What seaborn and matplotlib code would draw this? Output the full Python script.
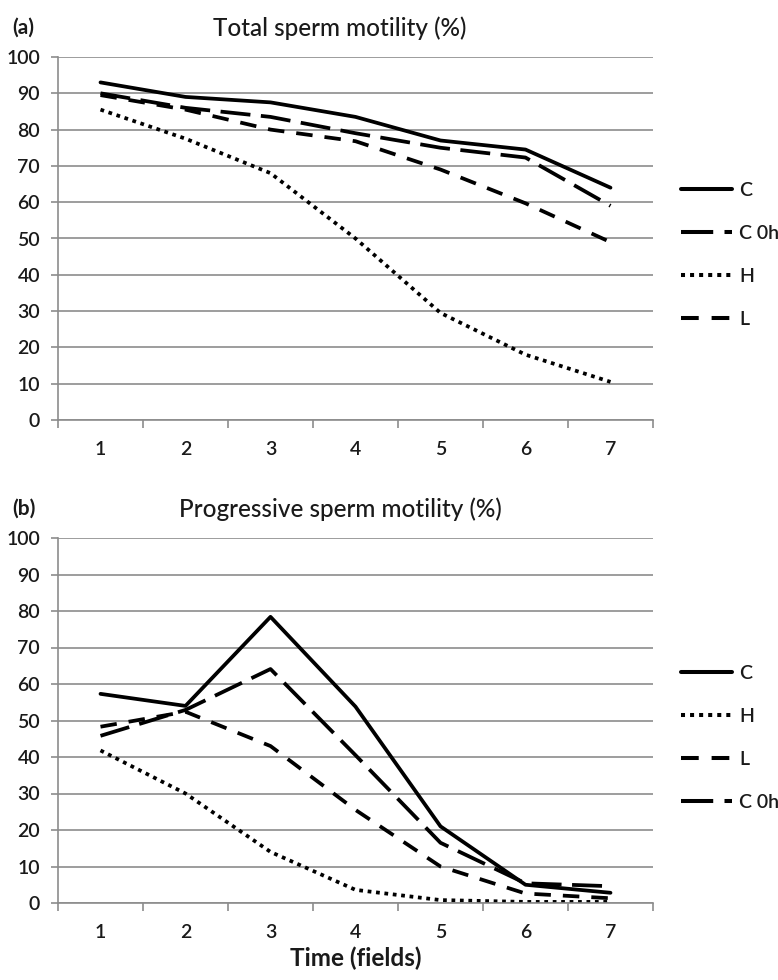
import numpy as np
import pandas as pd
import seaborn as sns
import matplotlib
matplotlib.use("Agg")
import matplotlib.pyplot as plt

# ---- data ----
time_fields = [1, 2, 3, 4, 5, 6, 7]

total_C = [93.0, 89.0, 87.5, 83.5, 77.0, 74.5, 64.0]
total_C0h = [90.0, 86.0, 83.5, 79.0, 75.0, 72.3, 59.0]
total_H = [85.5, 77.5, 68.0, 50.0, 29.5, 18.0, 10.5]
total_L = [89.5, 85.5, 80.0, 76.8, 69.0, 59.7, 49.0]

prog_C = [57.3, 54.0, 78.4, 53.8, 21.0, 5.0, 2.8]
prog_C0h = [45.8, 52.9, 64.1, 40.5, 16.5, 5.4, 4.6]
prog_H = [41.8, 30.0, 14.0, 3.6, 0.8, 0.3, 0.3]
prog_L = [48.3, 52.4, 43.0, 25.5, 10.0, 2.6, 1.3]

groups_a = ["C", "C 0h", "H", "L"]
groups_b = ["C", "H", "L", "C 0h"]
title_a = "Total sperm motility (%)"
title_b = "Progressive sperm motility (%)"
xlabel = "Time (fields)"
yticks = [0, 10, 20, 30, 40, 50, 60, 70, 80, 90, 100]

# ---- styling ----
sns.set_theme(style="white")
plt.rcParams["font.family"] = ["Lato", "DejaVu Sans"]

dash_map = {
    "C": "",
    "C 0h": (8.0, 2.8),
    "H": (1.0, 1.25),
    "L": (4.4, 3.2),
}
grid_col = "#8c8c8c"
txt_col = "#1a1a1a"


def make_df(c, c0h, h, l):
    rows = []
    for g, vals in (("C", c), ("C 0h", c0h), ("H", h), ("L", l)):
        for t, v in zip(time_fields, vals):
            rows.append({"time": t, "value": v, "group": g})
    return pd.DataFrame(rows)


df_a = make_df(total_C, total_C0h, total_H, total_L)
df_b = make_df(prog_C, prog_C0h, prog_H, prog_L)

W, H = 778, 980
fig = plt.figure(figsize=(W / 100, H / 100), dpi=100)
fig.patch.set_facecolor("white")

ax_a = fig.add_axes([58 / W, 1 - 420 / H, 595 / W, 363 / H])
ax_b = fig.add_axes([58 / W, 1 - 903 / H, 595 / W, 365 / H])


def style_axes(ax, df, order, title, letter, title_y, leg_top):
    sns.lineplot(data=df, x="time", y="value", style="group", style_order=order,
                 dashes=dash_map, color="black", linewidth=2.7, ax=ax,
                 legend=True)
    ax.set_xlim(0.5, 7.5)
    ax.set_ylim(0, 100)
    ax.set_yticks(yticks)
    ax.set_xticks(time_fields)
    ax.set_xticks(np.arange(0.5, 8.0, 1.0), minor=True)
    ax.yaxis.grid(True, color=grid_col, linewidth=1.2)
    ax.xaxis.grid(False)
    ax.set_axisbelow(True)
    for s in ("top", "right"):
        ax.spines[s].set_visible(False)
    for s in ("left", "bottom"):
        ax.spines[s].set_visible(True)
        ax.spines[s].set_color(grid_col)
        ax.spines[s].set_linewidth(1.2)
    ax.tick_params(axis="y", which="major", length=5, width=1.2, color=grid_col,
                   labelsize=14, labelcolor=txt_col, pad=8, left=True)
    ax.tick_params(axis="x", which="major", length=0, labelsize=14,
                   labelcolor=txt_col, pad=15)
    ax.tick_params(axis="x", which="minor", length=6, width=1.2, color=grid_col,
                   bottom=True, direction="out")
    for lab in ax.get_xticklabels() + ax.get_yticklabels():
        lab.set_fontweight("semibold")
    ax.set_xlabel("")
    ax.set_ylabel("")
    fig.text(340 / W, 1 - title_y / H, title, ha="center", va="center",
             fontsize=17.5, color=txt_col, fontweight="medium")
    fig.text(12 / W, 1 - title_y / H, letter, ha="left", va="center",
             fontsize=15, fontweight="bold", color=txt_col)
    handles, labels = ax.get_legend_handles_labels()
    ax.legend_.remove()
    fig.legend(handles, labels, loc="upper left",
               bbox_to_anchor=(681 / W, 1 - leg_top / H), frameon=False,
               prop={"size": 14, "weight": "semibold"},
               handlelength=2.6, handletextpad=0.4,
               labelspacing=1.33, borderpad=0, borderaxespad=0)


style_axes(ax_a, df_a, groups_a, title_a, "(a)", 28, 182)
style_axes(ax_b, df_b, groups_b, title_b, "(b)", 509, 665)

for leg in fig.legends:
    for ln in leg.get_lines():
        ln.set_linewidth(2.9)
        ln.set_color("black")
    for t in leg.get_texts():
        t.set_color(txt_col)

fig.text(356 / W, 1 - 958 / H, xlabel, ha="center", va="center",
         fontsize=17.5, fontweight="bold", color=txt_col)

fig.savefig("out.png", dpi=100, facecolor="white")
